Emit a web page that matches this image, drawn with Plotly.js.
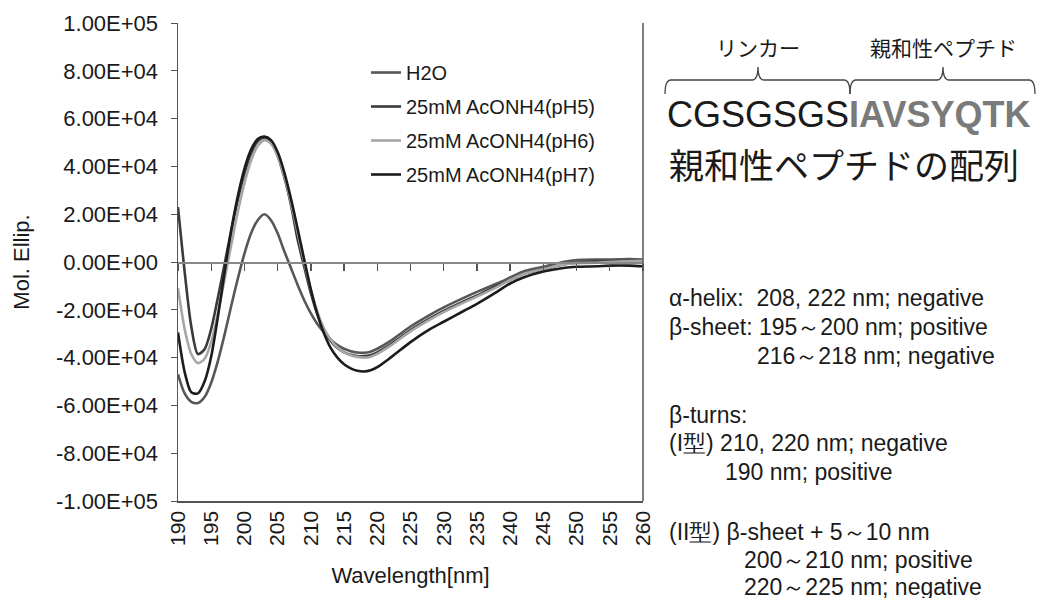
<!DOCTYPE html>
<html>
<head>
<meta charset="utf-8">
<script src="https://cdn.plot.ly/plotly-3.0.1.min.js"></script>
<style>
html,body{margin:0;padding:0;background:#fff;}
#chart{width:1037px;height:598px;}
</style>
</head>
<body>
<div id="chart"></div>
<script>
// ---- data ----
const wavelength = [190,191,192,193,194,195,196,197,198,199,200,201,202,203,204,205,206,207,208,209,210,211,212,213,214,215,216,217,218,219,220,222,225,228,230,233,235,238,240,242,245,248,250,253,255,258,260];

const h2o = [-47000,-55000,-58500,-59000,-56500,-50500,-41500,-30500,-18500,-7000,3500,12000,17500,20000,17500,12000,4500,-2500,-9500,-16000,-21500,-26000,-29500,-32500,-34800,-36300,-37300,-37900,-38000,-37500,-36300,-33000,-27000,-22000,-19000,-15000,-12500,-9000,-6500,-4000,-2000,0,800,1000,1000,1200,1000];

const ph5 = [23000,-4000,-27000,-38500,-36500,-28000,-15000,-1000,13000,26000,37000,45500,50500,52000,50000,44500,35500,24000,9500,-2000,-13000,-22000,-28500,-33000,-36000,-37800,-38800,-39300,-39400,-39000,-37800,-34500,-28500,-23500,-20500,-16500,-14000,-10000,-7500,-5000,-3000,-1000,-300,200,200,300,0];

const ph6 = [-11000,-28000,-38500,-42300,-40500,-33500,-21500,-7500,7000,21000,33000,42500,48500,51000,49500,44500,36000,25000,12500,0,-11500,-21000,-28000,-32500,-35800,-37800,-39000,-39700,-40000,-39600,-38400,-35000,-29000,-24000,-21000,-17000,-14500,-10500,-7500,-5000,-3000,-1000,-500,-300,0,300,500];

const ph7 = [-29500,-46000,-54500,-55000,-50000,-39500,-23000,-4500,13000,27500,39000,47000,51500,52500,51000,46000,37500,26500,14000,1000,-11500,-22000,-30000,-36000,-40000,-42800,-44500,-45500,-45800,-45300,-44000,-40000,-33500,-28000,-25000,-20500,-17500,-12500,-9000,-6500,-4000,-2500,-2000,-1800,-1500,-1500,-1800];

const seriesNames = ['H2O','25mM AcONH4(pH5)','25mM AcONH4(pH6)','25mM AcONH4(pH7)'];
const seriesValues = [h2o, ph5, ph6, ph7];
const seriesColors = ['#575757','#3a3a3a','#a6a6a6','#1c1c1c'];

const yTickVals = [-100000,-80000,-60000,-40000,-20000,0,20000,40000,60000,80000,100000];
const yTickText = ['-1.00E+05','-8.00E+04','-6.00E+04','-4.00E+04','-2.00E+04','0.00E+00','2.00E+04','4.00E+04','6.00E+04','8.00E+04','1.00E+05'];
const xTickVals = [190,195,200,205,210,215,220,225,230,235,240,245,250,255,260];

// ---- layout helpers (pixel -> paper) ----
const W = 1037, H = 598;
const L = 178, R = 643, T = 23, B = 501;
const fx = px => (px - L) / (R - L);
const fy = py => (B - py) / (B - T);

const traces = seriesNames.map((n, i) => ({
  x: wavelength, y: seriesValues[i], name: n, type: 'scatter', mode: 'lines',
  line: {color: seriesColors[i], width: 2.6, shape: 'spline', smoothing: 0.8},
  legendgroup: 'g' + i
}));
// invisible copy so that the zero-crossing tick axis (x2) is drawn
traces.push({x: wavelength, y: h2o, xaxis: 'x2', type: 'scatter', mode: 'lines', opacity: 0,
  line: {width: 0, color: 'rgba(0,0,0,0)'}, showlegend: false, hoverinfo: 'skip'});

const latin = 'Liberation Sans, Arial, sans-serif';
const cjk = 'Noto Sans CJK JP, sans-serif';

function brace(x0, x1, xm, yLow, yLine, yPip) {
  const r = 6;
  return 'M' + fx(x0) + ',' + fy(yLow) +
    ' Q' + fx(x0) + ',' + fy(yLine) + ' ' + fx(x0 + r) + ',' + fy(yLine) +
    ' L' + fx(xm - r) + ',' + fy(yLine) +
    ' Q' + fx(xm) + ',' + fy(yLine) + ' ' + fx(xm) + ',' + fy(yPip) +
    ' Q' + fx(xm) + ',' + fy(yLine) + ' ' + fx(xm + r) + ',' + fy(yLine) +
    ' L' + fx(x1 - r) + ',' + fy(yLine) +
    ' Q' + fx(x1) + ',' + fy(yLine) + ' ' + fx(x1) + ',' + fy(yLow);
}

const shapes = [
  {type: 'line', xref: 'paper', yref: 'paper', x0: 1, x1: 1, y0: 0, y1: 1, line: {color: '#555', width: 1.5}},
  {type: 'path', xref: 'paper', yref: 'paper', path: brace(665, 850, 758, 94, 80, 67), line: {color: '#444', width: 1.3}},
  {type: 'path', xref: 'paper', yref: 'paper', path: brace(850, 1035, 943, 94, 80, 67), line: {color: '#444', width: 1.3}}
];

function ann(text, px, py, size, family, anchor) {
  return {text: text, x: fx(px), y: fy(py), xref: 'paper', yref: 'paper', showarrow: false,
    xanchor: anchor || 'left', yanchor: 'middle', font: {size: size, family: family, color: '#1a1a1a'}};
}

const annotations = [
  ann('リンカー', 758, 47, 21, cjk, 'center'),
  ann('親和性ペプチド', 943, 47, 21, cjk, 'center'),
  ann('CGSGSGS<span style="color:#7a7a7a"><b>IAVSYQTK</b></span>', 665, 115, 36, latin),
  ann('親和性ペプチドの配列', 667, 163, 35, cjk),
  ann('α-helix:\u00a0\u00a0208, 222 nm; negative', 667, 298, 23, latin),
  ann('β-sheet: 195～200 nm; positive', 667, 327, 23, latin),
  ann('216～218 nm; negative', 755, 356, 23, latin),
  ann('β-turns:', 667, 415, 23, latin),
  ann('(I型) 210, 220 nm; negative', 667, 443, 23, latin),
  ann('190 nm; positive', 723, 472, 23, latin),
  ann('(II型) β-sheet + 5～10 nm', 667, 532, 23, latin),
  ann('200～210 nm; positive', 742, 560, 23, latin),
  ann('220～225 nm; negative', 742, 587, 23, latin)
];

const layout = {
  width: W, height: H,
  margin: {l: L, r: W - R, t: T, b: H - B, pad: 0},
  paper_bgcolor: '#fff', plot_bgcolor: '#fff',
  font: {family: latin, color: '#1a1a1a'},
  showlegend: true,
  legend: {x: fx(366), y: fy(53), xanchor: 'left', yanchor: 'top', bgcolor: 'rgba(0,0,0,0)',
    font: {size: 20, family: latin, color: '#1a1a1a'}, traceorder: 'grouped', tracegroupgap: 5},
  xaxis: {range: [190, 260], tickvals: xTickVals, ticktext: xTickVals.map(String), tickangle: -90,
    showgrid: false, zeroline: false, showline: true, linecolor: '#555', linewidth: 1.5, ticks: '',
    tickfont: {size: 21, family: latin}, title: {text: 'Wavelength[nm]', font: {size: 22, family: latin}, standoff: 22}},
  xaxis2: {overlaying: 'x', anchor: 'free', position: 0.5, side: 'bottom', range: [190, 260], matches: 'x',
    tickvals: xTickVals, showticklabels: false, ticks: 'outside', ticklen: 7, tickcolor: '#555', tickwidth: 1.3,
    showline: true, linecolor: '#888', linewidth: 1.5, showgrid: false, zeroline: false},
  yaxis: {range: [-100000, 100000], tickvals: yTickVals, ticktext: yTickText, showgrid: false, zeroline: false,
    showline: true, linecolor: '#555', linewidth: 1.5, ticks: 'outside', ticklen: 6, tickcolor: '#555',
    tickfont: {size: 22, family: latin}, ticklabelstandoff: 8,
    title: {text: 'Mol. Ellip.', font: {size: 22, family: latin}, standoff: 20}},
  shapes: shapes,
  annotations: annotations
};

Plotly.newPlot('chart', traces, layout, {displayModeBar: false, staticPlot: true});
</script>
</body>
</html>
